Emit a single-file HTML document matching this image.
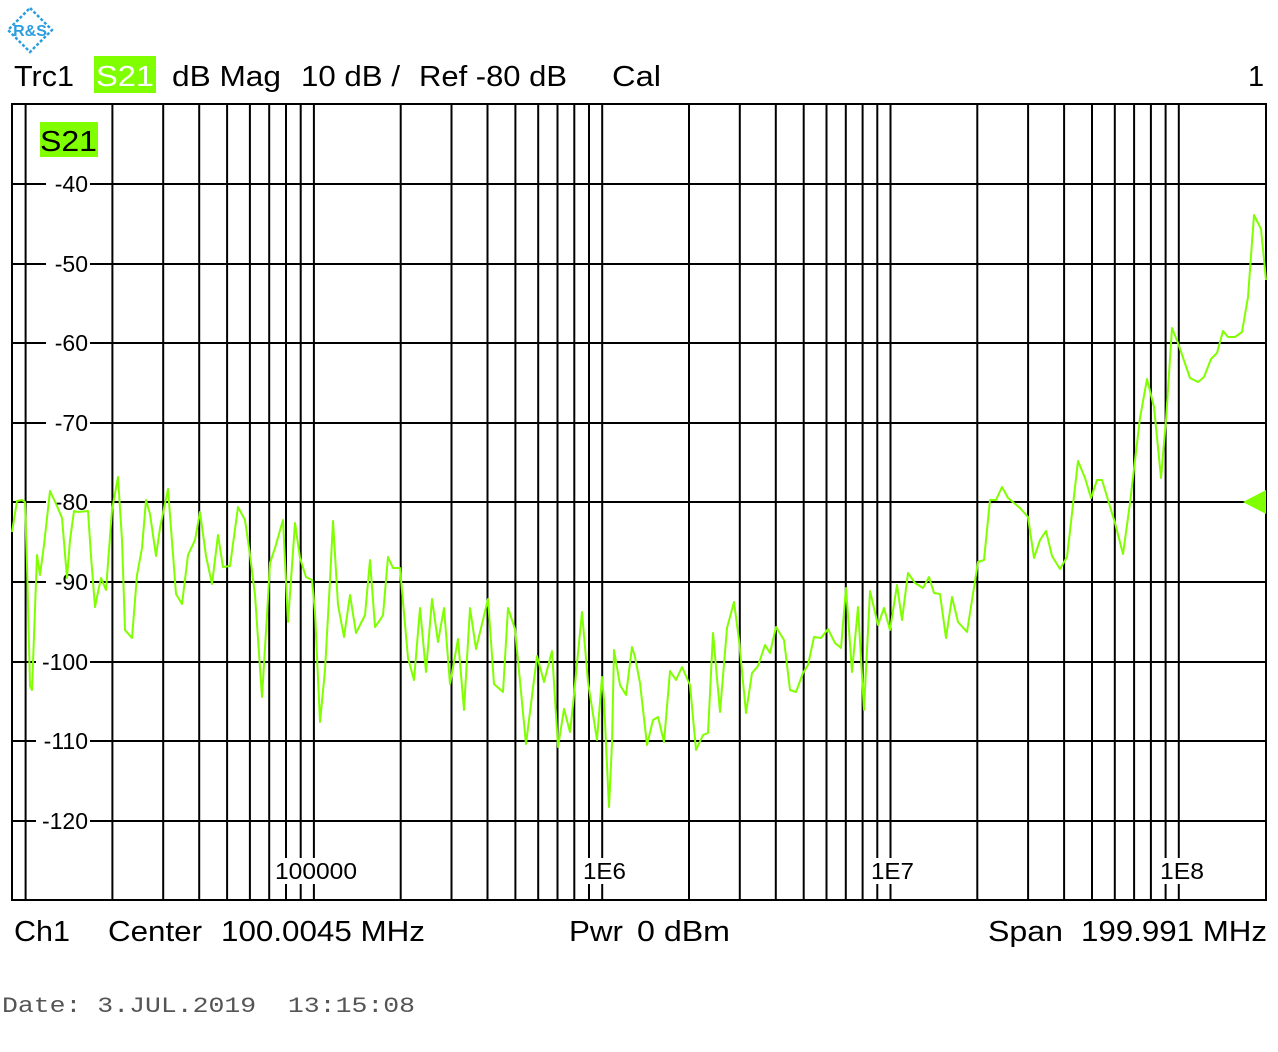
<!DOCTYPE html>
<html><head><meta charset="utf-8"><style>
html,body{margin:0;padding:0;background:#fff;}
svg{display:block;}
text{font-family:"Liberation Sans",sans-serif;}
</style></head><body>
<svg width="1278" height="1052" viewBox="0 0 1278 1052" xmlns="http://www.w3.org/2000/svg">
<rect width="1278" height="1052" fill="#fff"/>
<g stroke="#2a9ee0" stroke-width="2.5" fill="none" stroke-dasharray="3 2">
<polygon points="30,8 52,30 30,52 8,30"/>
</g>
<text x="30" y="36" font-size="16" fill="#2a9ee0" text-anchor="middle" font-weight="bold">R&amp;S</text>
<rect x="94" y="56" width="62" height="37" fill="#80ff00"/>
<g font-size="29" fill="#000" lengthAdjust="spacingAndGlyphs">
<text x="14" y="86" textLength="60" lengthAdjust="spacingAndGlyphs">Trc1</text>
<text x="96" y="86" fill="#fff" textLength="58" lengthAdjust="spacingAndGlyphs">S21</text>
<text x="172" y="86" textLength="109" lengthAdjust="spacingAndGlyphs">dB Mag</text>
<text x="301" y="86" textLength="99" lengthAdjust="spacingAndGlyphs">10 dB /</text>
<text x="419" y="86" textLength="148" lengthAdjust="spacingAndGlyphs">Ref -80 dB</text>
<text x="612" y="86" textLength="49" lengthAdjust="spacingAndGlyphs">Cal</text>
<text x="1248" y="86">1</text>
</g>
<g stroke="#000" stroke-width="2">
<line x1="11" y1="184" x2="1266" y2="184"/>
<line x1="11" y1="264" x2="1266" y2="264"/>
<line x1="11" y1="343" x2="1266" y2="343"/>
<line x1="11" y1="423" x2="1266" y2="423"/>
<line x1="11" y1="502" x2="1266" y2="502"/>
<line x1="11" y1="582" x2="1266" y2="582"/>
<line x1="11" y1="662" x2="1266" y2="662"/>
<line x1="11" y1="741" x2="1266" y2="741"/>
<line x1="11" y1="821" x2="1266" y2="821"/>
<line x1="25.6" y1="104" x2="25.6" y2="900"/><line x1="112.4" y1="104" x2="112.4" y2="900"/><line x1="163.2" y1="104" x2="163.2" y2="900"/><line x1="199.2" y1="104" x2="199.2" y2="900"/><line x1="227.1" y1="104" x2="227.1" y2="900"/><line x1="249.9" y1="104" x2="249.9" y2="900"/><line x1="269.2" y1="104" x2="269.2" y2="900"/><line x1="286" y1="104" x2="286" y2="900"/><line x1="300.7" y1="104" x2="300.7" y2="900"/>
<line x1="313.9" y1="104" x2="313.9" y2="900"/><line x1="400.7" y1="104" x2="400.7" y2="900"/><line x1="451.5" y1="104" x2="451.5" y2="900"/><line x1="487.5" y1="104" x2="487.5" y2="900"/><line x1="515.4" y1="104" x2="515.4" y2="900"/><line x1="538.2" y1="104" x2="538.2" y2="900"/><line x1="557.5" y1="104" x2="557.5" y2="900"/><line x1="574.3" y1="104" x2="574.3" y2="900"/><line x1="589" y1="104" x2="589" y2="900"/>
<line x1="602.2" y1="104" x2="602.2" y2="900"/><line x1="689" y1="104" x2="689" y2="900"/><line x1="739.8" y1="104" x2="739.8" y2="900"/><line x1="775.8" y1="104" x2="775.8" y2="900"/><line x1="803.7" y1="104" x2="803.7" y2="900"/><line x1="826.5" y1="104" x2="826.5" y2="900"/><line x1="845.8" y1="104" x2="845.8" y2="900"/><line x1="862.6" y1="104" x2="862.6" y2="900"/><line x1="877.3" y1="104" x2="877.3" y2="900"/>
<line x1="890.5" y1="104" x2="890.5" y2="900"/><line x1="977.3" y1="104" x2="977.3" y2="900"/><line x1="1028.1" y1="104" x2="1028.1" y2="900"/><line x1="1064.1" y1="104" x2="1064.1" y2="900"/><line x1="1092" y1="104" x2="1092" y2="900"/><line x1="1114.8" y1="104" x2="1114.8" y2="900"/><line x1="1134.1" y1="104" x2="1134.1" y2="900"/><line x1="1150.9" y1="104" x2="1150.9" y2="900"/><line x1="1165.6" y1="104" x2="1165.6" y2="900"/>
<line x1="1178.8" y1="104" x2="1178.8" y2="900"/>
<rect x="12" y="104" width="1254" height="796" fill="none"/>
</g>
<g fill="#fff">
<rect x="40" y="120" width="60" height="40"/>
<rect x="46" y="172" width="44" height="24"/><rect x="46" y="252" width="44" height="24"/><rect x="46" y="331" width="44" height="24"/><rect x="46" y="411" width="44" height="24"/><rect x="46" y="490" width="44" height="24"/><rect x="46" y="570" width="44" height="24"/>
<rect x="36" y="650" width="54" height="24"/><rect x="36" y="729" width="54" height="24"/><rect x="36" y="809" width="54" height="24"/>
<rect x="274" y="858" width="85" height="26"/><rect x="582" y="858" width="46" height="26"/><rect x="870" y="858" width="46" height="26"/><rect x="1158" y="858" width="48" height="26"/>
</g>
<rect x="40" y="122" width="58" height="35" fill="#80ff00"/>
<text x="40" y="151" font-size="29" fill="#000" textLength="57" lengthAdjust="spacingAndGlyphs">S21</text>
<g font-size="23" fill="#000" text-anchor="end">
<text x="88" y="192">-40</text><text x="88" y="272">-50</text><text x="88" y="351">-60</text><text x="88" y="431">-70</text><text x="88" y="510">-80</text><text x="88" y="590">-90</text><text x="88" y="670">-100</text><text x="88" y="749">-110</text><text x="88" y="829">-120</text>
</g>
<g font-size="23" fill="#000">
<text x="275" y="879" textLength="82" lengthAdjust="spacingAndGlyphs">100000</text><text x="583" y="879" textLength="43" lengthAdjust="spacingAndGlyphs">1E6</text><text x="871" y="879" textLength="43" lengthAdjust="spacingAndGlyphs">1E7</text><text x="1160" y="879" textLength="44" lengthAdjust="spacingAndGlyphs">1E8</text>
</g>
<polyline fill="none" stroke="#80ff00" stroke-width="2" stroke-linejoin="round" points="12,532 17,501 22,500 25,502 27,565 30,686 32,690 37,555 40,575 44,545 50,491 57,506 62,518 67,578 70,540 74,511 78,512 88,511 91,556 95,607 98,592 101,578 106,590 112,510 118,477 122,540 125,630 132,638 137,575 142,548 146,500 150,514 156,556 160,528 168,489 176,594 182,604 188,555 195,540 200,512 206,556 212,584 218,535 223,567 230,566 238,507 245,520 250,555 255,595 262,697 267,615 270,563 275,548 283,520 288,622 295,523 300,558 306,577 312,580 315,612 320,722 325,670 330,580 333,521 338,605 344,637 350,595 356,633 365,615 370,560 375,627 380,620 383,615 388,557 393,568 400,568 403,602 408,658 414,680 420,608 426,672 432,599 438,642 444,608 450,684 458,639 464,710 470,608 476,649 488,599 494,684 503,692 508,608 515,629 526,744 537,656 544,682 552,651 558,747 564,709 570,732 573,705 582,612 588,682 597,740 602,677 604,700 608,787 609,807 612,743 614,650 620,685 626,695 632,647 635,657 640,683 647,745 653,720 658,717 664,742 670,671 676,680 682,667 690,685 696,750 703,735 708,733 713,633 720,712 727,628 734,602 739,640 746,713 752,673 758,666 765,645 770,653 776,627 784,640 790,690 796,692 803,673 808,665 814,637 821,638 828,629 835,643 841,648 846,588 852,672 858,607 864,710 870,591 878,625 884,608 890,630 897,585 902,620 908,573 915,583 923,588 929,577 934,593 940,594 946,638 952,597 958,622 967,632 978,562 984,560 990,500 996,500 1002,487 1008,498 1020,508 1028,517 1034,558 1040,540 1046,531 1052,556 1060,569 1067,557 1078,461 1085,478 1091,498 1097,480 1102,480 1115,523 1123,554 1130,503 1140,418 1147,379 1154,407 1161,478 1166,420 1172,328 1178,343 1190,378 1198,382 1204,377 1211,359 1217,353 1223,331 1228,337 1235,337 1242,332 1248,297 1254,215 1261,229 1266,280"/>
<polygon points="1243,502 1266,490 1266,514" fill="#80ff00"/>
<g font-size="29" fill="#000">
<text x="14" y="941" textLength="56" lengthAdjust="spacingAndGlyphs">Ch1</text>
<text x="108" y="941" textLength="94" lengthAdjust="spacingAndGlyphs">Center</text>
<text x="221" y="941" textLength="204" lengthAdjust="spacingAndGlyphs">100.0045 MHz</text>
<text x="569" y="941" textLength="54" lengthAdjust="spacingAndGlyphs">Pwr</text>
<text x="637" y="941" textLength="93" lengthAdjust="spacingAndGlyphs">0 dBm</text>
<text x="988" y="941" textLength="75" lengthAdjust="spacingAndGlyphs">Span</text>
<text x="1081" y="941" textLength="186" lengthAdjust="spacingAndGlyphs">199.991 MHz</text>
</g>
<text x="2" y="1012" font-size="22" fill="#555" style="font-family:'Liberation Mono',monospace;white-space:pre" xml:space="preserve" textLength="413" lengthAdjust="spacingAndGlyphs">Date: 3.JUL.2019  13:15:08</text>
</svg>
</body></html>
